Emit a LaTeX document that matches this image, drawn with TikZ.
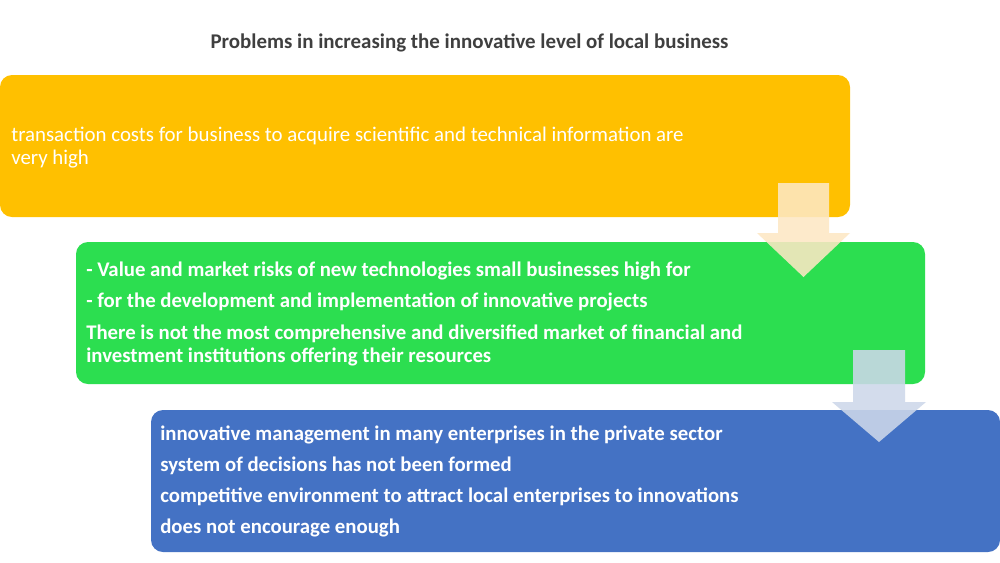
\documentclass[tikz,border=0pt]{standalone}
\usepackage{fontspec}
\setmainfont{Carlito}
\definecolor{boxyellow}{HTML}{FFC000}
\definecolor{boxgreen}{RGB}{44,222,80}
\definecolor{boxblue}{HTML}{4472C4}
\definecolor{titlegray}{HTML}{3F3F3F}
\definecolor{arrowpeach}{RGB}{253,232,196}
\definecolor{arrowblue}{RGB}{205,216,234}
\begin{document}
\begin{tikzpicture}[x=0.75pt,y=-0.75pt,
  panel/.style={rounded corners=9pt, draw=none},
  linetext/.style={anchor=base west, inner sep=0pt, text=white, font=\fontsize{15.65pt}{18pt}\selectfont},
  boldline/.style={linetext, font=\fontsize{15.6pt}{18pt}\selectfont\bfseries},
  blockarrow/.style={draw=none, fill opacity=0.88}]
\useasboundingbox (0,0) rectangle (1000,562);
\fill[white] (0,0) rectangle (1000,562);

\node[anchor=base, inner sep=0pt, text=titlegray, font=\fontsize{15.7pt}{18pt}\selectfont\bfseries] (title) at (469.5,48) {Problems in increasing the innovative level of local business};

\fill[panel, boxyellow] (0,75) rectangle (850,217);
\fill[panel, boxgreen] (76,242) rectangle (925,384);
\fill[panel, boxblue] (151,410) rectangle (1000,552);

\node[linetext] (y1) at (11,141) {transaction costs for business to acquire scientific and technical information are};
\node[linetext] (y2) at (11,164) {very high};

\node[boldline] (g1) at (86,276) {- Value and market risks of new technologies small businesses high for};
\node[boldline] (g2) at (86,307) {- for the development and implementation of innovative projects};
\node[boldline] (g3) at (86,339) {There is not the most comprehensive and diversified market of financial and};
\node[boldline] (g4) at (86,362) {investment institutions offering their resources};

\fill[blockarrow, arrowpeach] (778,183) -- (829,183) -- (829,233) -- (850,233) -- (803.5,277) -- (757,233) -- (778,233) -- cycle;
\fill[blockarrow, arrowblue] (853,350) -- (905,350) -- (905,402) -- (926,402) -- (879,442) -- (832,402) -- (853,402) -- cycle;

\node[boldline] (b1) at (160,440) {innovative management in many enterprises in the private sector};
\node[boldline] (b2) at (160,471) {system of decisions has not been formed};
\node[boldline] (b3) at (160,502) {competitive environment to attract local enterprises to innovations};
\node[boldline] (b4) at (160,533) {does not encourage enough};
\end{tikzpicture}
\end{document}
